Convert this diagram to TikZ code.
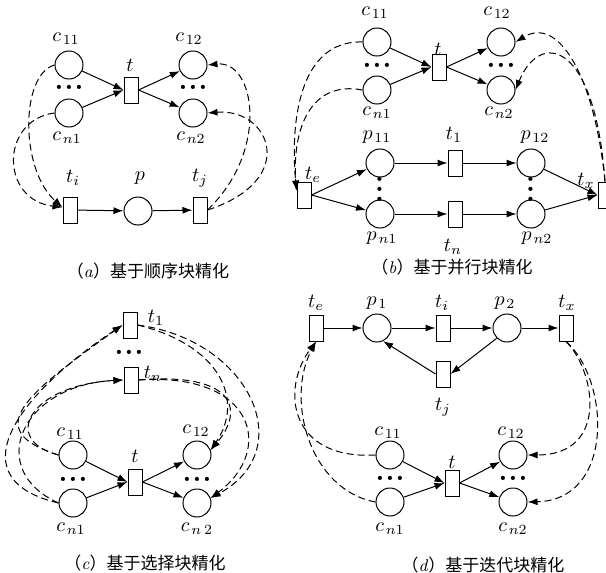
\documentclass[tikz,border=0pt]{standalone}
\usepackage{fontspec}
\newfontfamily\cjk{Noto Sans CJK SC}
\usetikzlibrary{arrows.meta}
\def\subcap#1#2{{\cjk （}\textit{#1}{\cjk ）#2}}
\def\sgap{\mkern2mu}
\def\tridots{\textbullet\kern-1.2pt\textbullet\kern-1.2pt\textbullet}
\tikzset{
  place/.style={circle, draw, minimum size=14pt, inner sep=0pt},
  trans/.style={rectangle, draw, minimum width=7pt, minimum height=13pt, inner sep=0pt},
  flow/.style={line width=0.5pt, -{Latex[length=5pt,width=3.5pt]}},
  dflow/.style={flow, dash pattern=on 3.5pt off 2pt},
  lab/.style={font=\fontsize{10}{12}\selectfont, inner sep=0pt},
  dotrow/.style={font=\fontsize{7}{8}\selectfont, inner sep=0pt},
  capt/.style={font=\fontsize{8.5}{10}\selectfont, inner sep=0pt}
}

\begin{document}
\begin{tikzpicture}[x=0.5pt, y=-0.5pt, line width=0.5pt]
			%%%%% START %%%%%
			\useasboundingbox (0,0) rectangle (606,573);
			
			%%%%% (a) %%%%%
			\node[place] (a11) at (69,65) {};
			\node[place] (an1) at (69,113) {};
			\node[dotrow] (adl) at (69,88) {\tridots};
			\node[trans] (at) at (131,90) {};
			\node[place] (a12) at (193,65) {};
			\node[place] (an2) at (193,113) {};
			\node[dotrow] (adr) at (193,88) {\tridots};
			\node[trans] (ati) at (70,210) {};
			\node[place] (ap) at (138,211) {};
			\node[trans] (atj) at (200,210) {};
			
			\node[lab] (a11l) at (66,39) {$c_{\sgap 11}$};
			\node[lab] (an1l) at (67,138) {$c_{\sgap n1}$};
			\node[lab] (atl) at (130,65) {$t$};
			\node[lab] (a12l) at (189,39) {$c_{\sgap 12}$};
			\node[lab] (an2l) at (191,138) {$c_{\sgap n2}$};
			\node[lab] (atil) at (73,178) {$t_i$};
			\node[lab] (apl) at (140,178) {$p$};
			\node[lab] (atjl) at (200,178) {$t_j$};
			\node[capt] (acap) at (148,271) {\subcap{a}{基于顺序块精化}};
			
			\draw[flow] (a11) -- (at.west);
			\draw[flow] (an1) -- (at.west);
			\draw[flow] (at.east) -- (a12);
			\draw[flow] (at.east) -- (an2);
			\draw[flow] (ati) -- (ap);
			\draw[flow] (ap) -- (atj);
			
			\draw[dflow] (a11.west) .. controls (20,75) and (20,170) .. (ati.160);
			\draw[dflow] (an1.west) .. controls (0,120) and (0,200) .. (ati.160);
			\draw[dflow] (atj.east) .. controls (270,150) and (255,60) .. (a12.east);
			\draw[dflow] (atj.east) .. controls (300,180) and (270,108) .. (an2.east);
			
			%%%%% (b) %%%%%
			\node[place] (b11) at (377,42) {};
			\node[place] (bn1) at (377,90) {};
			\node[dotrow] (bdl) at (377,66) {\tridots};
			\node[trans] (bt) at (439,67) {};
			\node[place] (b12) at (501,42) {};
			\node[place] (bn2) at (501,90) {};
			\node[dotrow] (bdr) at (501,66) {\tridots};
			\node[place] (bp11) at (380,163) {};
			\node[place] (bpn1) at (380,214) {};
			\node[dotrow, rotate=90] (bdp1) at (380,189) {\tridots};
			\node[trans] (bt1) at (455,163) {};
			\node[trans] (btn) at (455,214) {};
			\node[place] (bp12) at (531,163) {};
			\node[place] (bpn2) at (531,214) {};
			\node[dotrow, rotate=90] (bdp2) at (531,189) {\tridots};
			\node[trans] (bte) at (304,195) {};
			\node[trans] (btx) at (605,195) {};
			
			\node[lab] (b11l) at (375,13) {$c_{\sgap 11}$};
			\node[lab] (bn1l) at (377,113) {$c_{\sgap n1}$};
			\node[lab] (btl) at (438,49) {$t$};
			\node[lab] (b12l) at (497,13) {$c_{\sgap 12}$};
			\node[lab] (bn2l) at (499,113) {$c_{\sgap n2}$};
			\node[lab] (bp11l) at (377,137) {$p_{\sgap 11}$};
			\node[lab] (bpn1l) at (382,238) {$p_{\sgap n1}$};
			\node[lab] (bt1l) at (454,135) {$t_1$};
			\node[lab] (btnl) at (453,247) {$t_n$};
			\node[lab] (bp12l) at (535,137) {$p_{\sgap 12}$};
			\node[lab] (bpn2l) at (537,238) {$p_{\sgap n2}$};
			\node[lab] (btel) at (313,175) {$t_e$};
			\node[lab] (btxl) at (586,181) {$t_x$};
			\node[capt] (bcap) at (452,267) {\subcap{b}{基于并行块精化}};
			
			\draw[flow] (b11) -- (bt.west);
			\draw[flow] (bn1) -- (bt.west);
			\draw[flow] (bt.east) -- (b12);
			\draw[flow] (bt.east) -- (bn2);
			\draw[flow] (bte.east) -- (bp11);
			\draw[flow] (bte.east) -- (bpn1);
			\draw[flow] (bp11) -- (bt1);
			\draw[flow] (bt1) -- (bp12);
			\draw[flow] (bpn1) -- (btn);
			\draw[flow] (btn) -- (bpn2);
			\draw[flow] (bp12) -- (btx.west);
			\draw[flow] (bpn2) -- (btx.west);
			
			\draw[dflow] (b11.west) .. controls (300,40) and (290,120) .. (bte.150);
			\draw[dflow] (bn1.west) .. controls (310,80) and (292,130) .. (bte.150);
			\draw[dflow] (btx.north) .. controls (595,80) and (560,15) .. (b12.east);
			\draw[dflow] (btx.north) .. controls (595,40) and (540,30) .. (bn2.east);
			
			%%%%% (c) %%%%%
			\node[trans] (ct1) at (130,325) {};
			\node[dotrow] (cdt) at (129,353) {\tridots};
			\node[trans] (ctn) at (131,380) {};
			\node[place] (c11) at (73,455) {};
			\node[place] (cn1) at (73,503) {};
			\node[dotrow] (cdl) at (73,480) {\tridots};
			\node[trans] (ct) at (135,482) {};
			\node[place] (c12) at (197,455) {};
			\node[place] (cn2) at (197,503) {};
			\node[dotrow] (cdr) at (197,480) {\tridots};
			
			\node[lab] (ct1l) at (156,318) {$t_1$};
			\node[lab] (ctnl) at (153,374) {$t_n$};
			\node[lab] (c11l) at (70,434) {$c_{\sgap 11}$};
			\node[lab] (cn1l) at (71,529) {$c_{\sgap n1}$};
			\node[lab] (ctl) at (135,456) {$t$};
			\node[lab] (c12l) at (196,431) {$c_{\sgap 12}$};
			\node[lab] (cn2l) at (197,529) {$c_{\sgap n\,2}$};
			\node[capt] (ccap) at (145,563) {\subcap{c}{基于选择块精化}};
			
			\draw[flow] (c11) -- (ct.west);
			\draw[flow] (cn1) -- (ct.west);
			\draw[flow] (ct.east) -- (c12);
			\draw[flow] (ct.east) -- (cn2);
			
			\draw[dflow] (c11.west) .. controls (-20,430) and (25,395) .. (ct1.west);
			\draw[dflow] (cn1.west) .. controls (-40,480) and (10,400) .. (ct1.west);
			\draw[dflow] (c11.west) .. controls (0,440) and (30,385) .. (ctn.west);
			\draw[dflow] (cn1.west) .. controls (-15,470) and (20,385) .. (ctn.west);
			\draw[dflow] (ct1.east) .. controls (220,345) and (245,400) .. (c12.20);
			\draw[dflow] (ct1.east) .. controls (250,340) and (300,450) .. (cn2.20);
			\draw[dflow] (ctn.east) .. controls (235,372) and (245,410) .. (c12.20);
			\draw[dflow] (ctn.east) .. controls (255,372) and (275,450) .. (cn2.20);
			
			%%%%% (d) %%%%%
			\node[trans] (dte) at (316,328) {};
			\node[place] (dp1) at (377,328) {};
			\node[trans] (dti) at (443,328) {};
			\node[place] (dp2) at (507,328) {};
			\node[trans] (dtx) at (566,328) {};
			\node[trans] (dtj) at (443,374) {};
			\node[place] (d11) at (390,455) {};
			\node[place] (dn1) at (390,502) {};
			\node[dotrow] (ddl) at (390,479) {\tridots};
			\node[trans] (dt) at (452,483) {};
			\node[place] (d12) at (513,455) {};
			\node[place] (dn2) at (513,502) {};
			\node[dotrow] (ddr) at (513,479) {\tridots};
			
			\node[lab] (dtel) at (316,303) {$t_e$};
			\node[lab] (dp1l) at (377,303) {$p_{\sgap 1}$};
			\node[lab] (dtil) at (442,303) {$t_i$};
			\node[lab] (dp2l) at (505,303) {$p_{\sgap 2}$};
			\node[lab] (dtxl) at (567,303) {$t_x$};
			\node[lab] (dtjl) at (443,407) {$t_j$};
			\node[lab] (d11l) at (388,433) {$c_{\sgap 11}$};
			\node[lab] (dn1l) at (390,529) {$c_{\sgap n1}$};
			\node[lab] (dtl) at (452,462) {$t$};
			\node[lab] (d12l) at (511,433) {$c_{\sgap 12}$};
			\node[lab] (dn2l) at (513,529) {$c_{\sgap n2}$};
			\node[capt] (dcap) at (483,565) {\subcap{d}{基于迭代块精化}};
			
			\draw[flow] (dte) -- (dp1);
			\draw[flow] (dp1) -- (dti);
			\draw[flow] (dti) -- (dp2);
			\draw[flow] (dp2) -- (dtx);
			\draw[flow] (dp2.south west) -- (dtj.east);
			\draw[flow] (dtj.west) -- (dp1.-65);
			\draw[flow] (d11) -- (dt.west);
			\draw[flow] (dn1) -- (dt.west);
			\draw[flow] (dt.east) -- (d12);
			\draw[flow] (dt.east) -- (dn2);
			
			\draw[dflow] (d11.west) .. controls (290,460) and (280,390) .. (dte.south);
			\draw[dflow] (dn1.west) .. controls (310,490) and (285,400) .. (dte.south);
			\draw[dflow] (dtx.south) .. controls (595,370) and (610,455) .. (d12.east);
			\draw[dflow] (dtx.south) .. controls (610,380) and (615,500) .. (dn2.east);
			%%%%% END %%%%%
\end{tikzpicture}
\end{document}
